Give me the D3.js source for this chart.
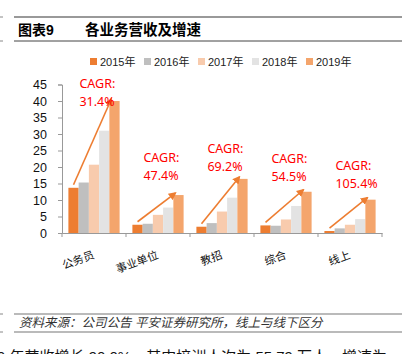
<!DOCTYPE html>
<html>
<head>
<meta charset="utf-8">
<script src="https://cdn.jsdelivr.net/npm/d3@7"></script>
<style>
  html, body { margin: 0; padding: 0; background: #fff; overflow: hidden; }
  svg { display: block; }
</style>
</head>
<body>
<div id="chart"></div>
<script>
const categories = ["公务员", "事业单位", "教招", "综合", "线上"];
const years = ["2015年", "2016年", "2017年", "2018年", "2019年"];

// revenue by year, one array per series
const v2015 = [13.7, 2.5, 1.9, 2.3, 0.6];
const v2016 = [15.3, 2.8, 3.0, 2.2, 1.4];
const v2017 = [20.7, 5.5, 6.5, 4.1, 2.5];
const v2018 = [31.0, 7.7, 10.7, 8.2, 4.2];
const v2019 = [40.0, 11.5, 16.4, 12.5, 10.1];

const cagr = ["31.4%", "47.4%", "69.2%", "54.5%", "105.4%"];
// where the CAGR note sits, in axis units
const cagrLabelY = [43.9, 21.6, 24.3, 21.3, 19.1];

const yTicks = [0, 5, 10, 15, 20, 25, 30, 35, 40, 45];

const series = [v2015, v2016, v2017, v2018, v2019];
const colors = ["#ED7D31", "#BFBFBF", "#F8CBAD", "#E3E3E3", "#F4A56C"];

const width = 412, height = 354;
const svg = d3.select("#chart")
  .append("svg")
  .attr("width", width)
  .attr("height", height);

const cjk = "'Liberation Sans', 'Noto Sans CJK SC', sans-serif";

// header
svg.append("line").attr("x1", 14).attr("x2", 402).attr("y1", 17).attr("y2", 17)
  .attr("stroke", "#999").attr("stroke-width", 2);
svg.append("line").attr("x1", 14).attr("x2", 402).attr("y1", 41).attr("y2", 41)
  .attr("stroke", "#444").attr("stroke-width", 1);
[17, 41, 314, 332].forEach(y => {
  svg.append("line").attr("x1", 0).attr("x2", 3).attr("y1", y).attr("y2", y)
    .attr("stroke", "#888").attr("stroke-width", 1);
});
svg.append("text").attr("x", 18).attr("y", 35)
  .style("font-family", cjk).style("font-size", "14px").style("font-weight", "bold")
  .text("图表9");
svg.append("text").attr("x", 85).attr("y", 35)
  .style("font-family", cjk).style("font-size", "14.5px").style("font-weight", "bold")
  .text("各业务营收及增速");

// scales
const x0 = d3.scaleBand()
  .domain(categories)
  .range([62, 382])
  .paddingInner(0.2)
  .paddingOuter(0.1);

const x1 = d3.scaleBand()
  .domain(years)
  .range([0, x0.bandwidth()]);

const y = d3.scaleLinear()
  .domain([0, 45])
  .range([233, 84.5]);

// y axis
const yAxis = svg.append("g")
  .attr("transform", "translate(62,0)")
  .call(d3.axisLeft(y).tickValues(yTicks).tickSize(4).tickPadding(11));
yAxis.select(".domain").attr("stroke", "#999");
yAxis.selectAll(".tick line").attr("stroke", "#999");
yAxis.selectAll(".tick text")
  .style("font-family", "'Liberation Sans', Arial, sans-serif")
  .style("font-size", "12.5px")
  .attr("fill", "#111");

// bars
categories.forEach((c, i) => {
  const g = svg.append("g").attr("transform", `translate(${x0(c)},0)`);
  g.selectAll("rect")
    .data(series.map((s, k) => ({ year: years[k], value: s[i], color: colors[k] })))
    .enter()
    .append("rect")
    .attr("x", d => x1(d.year))
    .attr("y", d => y(d.value))
    .attr("width", x1.bandwidth())
    .attr("height", d => y(0) - y(d.value))
    .attr("fill", d => d.color);
});

// x axis line + ticks between categories
const xAxis = svg.append("g")
  .attr("transform", `translate(0,${y(0)})`)
  .call(d3.axisBottom(x0).tickSize(0).tickFormat(""));
xAxis.select(".domain").attr("stroke", "#999");
const step = x0.step();
d3.range(categories.length + 1).forEach(k => {
  const bx = x0.range()[0] + k * step;
  svg.append("line")
    .attr("x1", bx).attr("x2", bx)
    .attr("y1", y(0)).attr("y2", y(0) + 4)
    .attr("stroke", "#999");
});

// category labels, rotated
categories.forEach(c => {
  const cx = x0(c) + x0.bandwidth() / 2 + 1;
  svg.append("text")
    .attr("transform", `translate(${cx},258) rotate(-20)`)
    .attr("text-anchor", "end")
    .style("font-family", cjk)
    .style("font-size", "11px")
    .attr("fill", "#111")
    .text(c);
});

// CAGR arrows
const defs = svg.append("defs");
defs.append("marker")
  .attr("id", "arrow")
  .attr("viewBox", "0 0 10 10")
  .attr("refX", 8).attr("refY", 5)
  .attr("markerWidth", 5).attr("markerHeight", 5)
  .attr("markerUnits", "strokeWidth")
  .attr("orient", "auto")
  .append("path")
  .attr("d", "M0,0 L10,5 L0,10 Z")
  .attr("fill", "#ED7D31");

categories.forEach((c, i) => {
  const sx = x0(c) + x1(years[0]) + x1.bandwidth() / 2;
  const sy = y(v2015[i]) - 3;
  const ex = x0(c) + x1(years[4]) + 2;
  const ey = y(v2019[i]) - 2;
  svg.append("line")
    .attr("x1", sx).attr("y1", sy)
    .attr("x2", ex).attr("y2", ey)
    .attr("stroke", "#ED7D31")
    .attr("stroke-width", 1.6)
    .attr("marker-end", "url(#arrow)");

  const lx = x0(c) + x1(years[0]) + 11;
  const t = svg.append("text")
    .attr("x", lx)
    .attr("y", y(cagrLabelY[i]))
    .attr("fill", "#FF0000")
    .style("font-family", "'Noto Sans', 'Open Sans', sans-serif")
    .style("font-size", "12.5px");
  t.append("tspan").attr("x", lx).text("CAGR:");
  t.append("tspan").attr("x", lx).attr("dy", 18).text(cagr[i]);
});

// legend
const legend = svg.append("g").attr("transform", "translate(90,58)");
years.forEach((yr, k) => {
  const g = legend.append("g").attr("transform", `translate(${k * 54},0)`);
  g.append("rect").attr("width", 7).attr("height", 7).attr("fill", colors[k]);
  g.append("text")
    .attr("x", 10).attr("y", 7.5)
    .style("font-family", cjk)
    .style("font-size", "11px")
    .attr("fill", "#222")
    .text(yr);
});

// footer
svg.append("line").attr("x1", 14).attr("x2", 402).attr("y1", 314).attr("y2", 314)
  .attr("stroke", "#777").attr("stroke-width", 1.2);
svg.append("line").attr("x1", 14).attr("x2", 402).attr("y1", 332).attr("y2", 332)
  .attr("stroke", "#777").attr("stroke-width", 1.2);
svg.append("text").attr("x", 19).attr("y", 327)
  .style("font-family", cjk).style("font-size", "12.5px").style("font-style", "italic")
  .attr("fill", "#333")
  .text("资料来源：公司公告 平安证券研究所，线上与线下区分");

svg.append("text").attr("x", -3).attr("y", 362)
  .style("font-family", cjk).style("font-size", "15px")
  .attr("fill", "#111")
  .text("9 年营收增长 90.0%，其中培训人次为 55.79 万人，增速为");
</script>
</body>
</html>
